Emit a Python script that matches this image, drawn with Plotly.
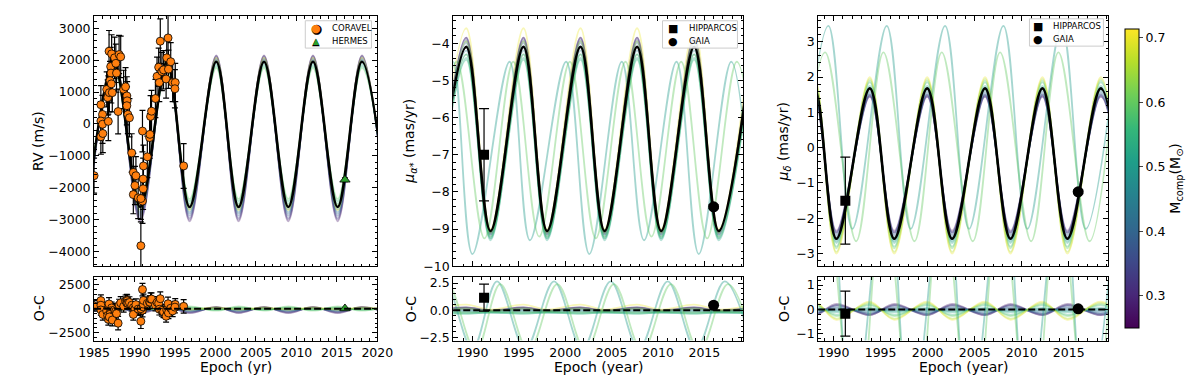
import plotly.graph_objects as go
from plotly.colors import sample_colorscale

# ---------------- observations ----------------
coravel_t = [1985.00, 1985.84, 1986.04, 1985.84, 1986.04, 1985.84, 1986.08, 1986.76, 1986.56, 1986.76,
             1986.68, 1986.85, 1987.17, 1987.05, 1987.09, 1986.97, 1987.13, 1986.89, 1987.25, 1987.53,
             1987.69, 1987.77, 1988.09, 1988.29, 1987.97, 1988.65, 1988.89, 1989.05, 1989.09, 1989.05,
             1989.17, 1989.37, 1989.65, 1989.85, 1990.05, 1989.85, 1990.17, 1990.45, 1990.98, 1990.78,
             1991.06, 1991.06, 1991.10, 1990.98, 1990.78, 1991.58, 1991.86, 1991.90, 1991.98, 1992.10,
             1992.58, 1992.78, 1992.98, 1993.18, 1993.06, 1993.38, 1993.58, 1993.90, 1993.98, 1994.14,
             1994.19, 1994.47, 1994.71, 1995.03, 1994.99, 1996.07]
coravel_rv = [-1620, 602, 296, 92, -10, -400, -300, 80, 1082, 908,
              827, 2276, 2194, 1796, 1592, 1357, 1255, 980, 980, 2071,
              1898, 1592, 2173, 2102, 388, 1082, 1163, 878, 724, 571,
              296, 194, -908, -1520, -1929, -2214, -1622, -2316, -2418, -2337,
              -2031, -1724, -1316, -224, -3816, -1031, -429, -327, 235, 398,
              796, 1490, 1776, 2592, 1296, 1643, 1694, 1408, 2071, 2694,
              1714, 1949, 1296, 1296, 1102, -1316]
coravel_err = [550, 600, 600, 600, 600, 550, 600, 600, 550, 600,
               550, 650, 600, 600, 600, 600, 600, 600, 600, 650,
               600, 600, 600, 650, 700, 600, 600, 600, 600, 600,
               600, 600, 600, 600, 600, 600, 600, 650, 700, 650,
               650, 650, 650, 650, 750, 650, 650, 650, 650, 650,
               600, 600, 600, 700, 600, 600, 600, 600, 650, 700,
               600, 600, 600, 600, 600, 700]
coravel_res = [300, 850, 100, 370, -200, -120, -590, -1100, -230, -740,
               -700, 500, 90, -210, -450, -570, -820, -850, -1170, -120,
               -240, -500, 390, 610, -1500, 250, 830, 900, 830, 590,
               580, 650, 370, 100, -10, -590, 430, -30, -150, 10,
               190, 490, 870, 2000, -1300, 570, 670, 690, 1000, 1010,
               380, 660, 570, 1050, -50, -170, -320, -780, -130, 520,
               -430, 60, -220, 450, 170, 250]

hermes_t = [2016.0]
hermes_rv = [-1750]
hermes_err = [60]
hermes_res = [30]

hip_t = [1991.25]
gaia_t = [2016.0]
hip_pmra, hip_pmra_err = [-7.0], [1.24]
hip_pmra_res, hip_pmra_res_err = [1.15], [1.24]
gaia_pmra, gaia_pmra_err, gaia_pmra_res = [-8.4], [0.05], [0.45]
hip_pmdec, hip_pmdec_err = [-1.5], [1.23]
hip_pmdec_res, hip_pmdec_res_err = [-0.17], [0.92]
gaia_pmdec, gaia_pmdec_err, gaia_pmdec_res = [-1.25], [0.05], [0.03]

# ---------------- best-fit orbit (turning points) ----------------
rv_best_t = [1984.2, 1987.45, 1990.7, 1994.0, 1996.8, 2000.1, 2002.85, 2006.0, 2009.0,
             2012.05, 2015.1, 2018.1, 2021.2]
rv_best_y = [-2600, 1950, -2600, 1950, -2600, 1950, -2600, 1950, -2600, 1950, -2600, 1950, -2600]

pmra_best_t = [1985.75, 1989.33, 1991.95, 1995.5, 1998.05, 2001.65, 2004.25, 2007.75, 2010.35,
               2013.9, 2016.55, 2020.15]
pmra_best_y = [-9.05, -4.1, -9.05, -4.1, -9.05, -4.1, -9.05, -4.1, -9.05, -4.1, -9.05, -4.1]

pmdec_best_t = [1984.6, 1987.95, 1990.3, 1993.85, 1996.45, 1999.95, 2002.6, 2006.1, 2008.8,
                2012.2, 2014.85, 2018.4, 2021.1]
pmdec_best_y = [-2.58, 1.68, -2.58, 1.68, -2.58, 1.68, -2.58, 1.68, -2.58, 1.68, -2.58, 1.68, -2.58]

# ---------------- posterior draws (companion mass, turning values) ----------------
sample_mass = [0.28, 0.31, 0.34, 0.37, 0.40, 0.43, 0.46, 0.49, 0.52, 0.56, 0.60, 0.65, 0.70]
rv_peak = [2150, 2130, 2100, 2060, 2030, 2000, 1960, 1920, 1860, 1800, 1750, 1950, 2080]
rv_trough = [-3050, -3000, -2950, -2880, -2820, -2760, -2680, -2600, -2500, -2420, -2350, -2550, -2700]
pmra_peak = [-3.85, -3.85, -3.9, -3.95, -4.0, -4.1, -4.2, -4.3, -4.4, -4.45, -4.3, -3.95, -3.6]
pmra_trough = [-9.05, -9.1, -9.1, -9.15, -9.1, -9.15, -9.2, -9.25, -9.3, -9.25, -9.2, -9.1, -9.0]
pmdec_peak = [1.45, 1.45, 1.5, 1.5, 1.55, 1.6, 1.65, 1.7, 1.75, 1.85, 1.9, 1.95, 2.0]
pmdec_trough = [-2.35, -2.4, -2.4, -2.45, -2.5, -2.55, -2.6, -2.65, -2.7, -2.8, -2.85, -2.95, -3.0]

# outlier draws (explicit turning points)
pmra_out_mass = [0.50, 0.60]
pmra_out_t = [
    [1985.0, 1987.9, 1990.0, 1994.0, 1996.2, 2000.1, 2002.6, 2006.1, 2008.5, 2012.0, 2014.4, 2017.9, 2020.3],
    [1985.3, 1988.3, 1991.3, 1994.4, 1997.2, 2000.5, 2003.3, 2006.5, 2009.3, 2012.5, 2015.3, 2018.5, 2021.3],
]
pmra_out_y = [
    [-9.2, -4.5, -9.67, -4.5, -9.3, -4.5, -9.67, -4.5, -9.3, -4.5, -9.67, -4.5, -9.3],
    [-9.25, -4.5, -9.25, -4.5, -9.2, -4.5, -9.25, -4.5, -9.2, -4.5, -9.25, -4.5, -9.25],
]
pmra_out_res_t = [
    [1983.9, 1986.95, 1990.0, 1992.65, 1995.7, 1998.8, 2001.85, 2004.9, 2007.95, 2011.05, 2014.1, 2017.2, 2020.25],
    [1984.2, 1987.3, 1990.35, 1993.0, 1996.05, 1999.15, 2002.2, 2005.25, 2008.3, 2011.4, 2014.45, 2017.55, 2020.6],
]
pmra_out_res_y = [
    [-3.6, 2.65, -3.6, 2.65, -3.6, 2.65, -3.6, 2.65, -3.6, 2.65, -3.6, 2.65, -3.6],
    [-3.8, 2.4, -3.8, 2.4, -3.8, 2.4, -3.8, 2.4, -3.8, 2.4, -3.8, 2.4, -3.8],
]

pmdec_out_mass = [0.50, 0.60]
pmdec_out_t = [
    [1986.0, 1989.45, 1992.0, 1995.65, 1998.2, 2001.85, 2004.4, 2008.05, 2010.6, 2014.25, 2016.8, 2020.45],
    [1985.9, 1989.1, 1992.4, 1995.3, 1998.6, 2001.5, 2004.8, 2007.7, 2011.0, 2013.9, 2017.2, 2020.1],
]
pmdec_out_y = [
    [-2.3, 3.45, -2.3, 3.45, -2.3, 3.45, -2.3, 3.45, -2.3, 3.45, -2.3, 3.45],
    [-2.65, 2.7, -2.65, 2.7, -2.65, 2.7, -2.65, 2.7, -2.65, 2.7, -2.65, 2.7],
]
pmdec_out_res_y = [
    [-5.0, 6.0, -5.0, 6.0, -5.0, 6.0, -5.0, 6.0, -5.0, 6.0, -5.0, 6.0],
    [-6.0, 5.0, -6.0, 5.0, -6.0, 5.0, -6.0, 5.0, -6.0, 5.0, -6.0, 5.0],
]

# legend entries: label, glyph, colour
legend_rv = [("CORAVEL", "●", "#ff7f0e"), ("HERMES", "▲", "#2ca02c")]
legend_pm = [("HIPPARCOS", "■", "black"), ("GAIA", "●", "black")]

CMIN, CMAX = 0.25, 0.714
FONT = "DejaVu Sans"
W, H = 1200, 381


def mass_color(m):
    return sample_colorscale("Viridis", [(m - CMIN) / (CMAX - CMIN)])[0]


def add_curve(fig, t, y, xa, ya, color, width=1.8, opacity=0.33):
    fig.add_trace(go.Scatter(
        x=t, y=y, mode="lines", xaxis=xa, yaxis=ya,
        line=dict(color=color, width=width, shape="spline", smoothing=1),
        opacity=opacity, showlegend=False, hoverinfo="skip"))


fig = go.Figure()

# posterior band + residual wiggles
panels = [
    (rv_best_t, rv_best_y, rv_peak, rv_trough, "x", "y", "x2", "y2"),
    (pmra_best_t, pmra_best_y, pmra_peak, pmra_trough, "x3", "y3", "x4", "y4"),
    (pmdec_best_t, pmdec_best_y, pmdec_peak, pmdec_trough, "x5", "y5", "x6", "y6"),
]
for t, best, pk, tr, xa, ya, xr, yr in panels:
    hi, lo = max(best), min(best)
    mid = (hi + lo) / 2
    for m, p, q in zip(sample_mass, pk, tr):
        y = [p if v > mid else q for v in best]
        res = [p - hi if v > mid else q - lo for v in best]
        add_curve(fig, t, y, xa, ya, mass_color(m))
        add_curve(fig, t, res, xr, yr, mass_color(m))

# outlier draws
for i, m in enumerate(pmra_out_mass):
    add_curve(fig, pmra_out_t[i], pmra_out_y[i], "x3", "y3", mass_color(m), opacity=0.4)
    add_curve(fig, pmra_out_res_t[i], pmra_out_res_y[i], "x4", "y4", mass_color(m), opacity=0.4)
for i, m in enumerate(pmdec_out_mass):
    add_curve(fig, pmdec_out_t[i], pmdec_out_y[i], "x5", "y5", mass_color(m), opacity=0.4)
    add_curve(fig, pmdec_out_t[i], pmdec_out_res_y[i], "x6", "y6", mass_color(m), opacity=0.4)

# best fit
add_curve(fig, rv_best_t, rv_best_y, "x", "y", "black", width=2.6, opacity=1)
add_curve(fig, pmra_best_t, pmra_best_y, "x3", "y3", "black", width=2.6, opacity=1)
add_curve(fig, pmdec_best_t, pmdec_best_y, "x5", "y5", "black", width=2.6, opacity=1)

# ---------------- data points ----------------
cor_marker = dict(color="#ff7f0e", size=8, line=dict(color="black", width=0.8))
her_marker = dict(color="#2ca02c", size=9, symbol="triangle-up", line=dict(color="black", width=0.8))
err_style = dict(color="black", thickness=1.2, width=3)


def add_points(x, y, xa, ya, marker, err=None, err_kw=err_style):
    fig.add_trace(go.Scatter(
        x=x, y=y, mode="markers", marker=marker, xaxis=xa, yaxis=ya, showlegend=False,
        hoverinfo="skip", error_y=dict(array=err, **err_kw) if err else None))


add_points(coravel_t, coravel_rv, "x", "y", cor_marker, coravel_err)
add_points(hermes_t, hermes_rv, "x", "y", her_marker, hermes_err)
add_points(coravel_t, coravel_res, "x2", "y2", cor_marker, coravel_err)
add_points(hermes_t, hermes_res, "x2", "y2", her_marker)

hip_marker = dict(color="black", size=10, symbol="square")
gaia_marker = dict(color="black", size=11, symbol="circle")
big_err = dict(color="black", thickness=1.2, width=5)

for xa, ya, xr, yr, hy, he, hr, hre, gy, ge, gr in [
    ("x3", "y3", "x4", "y4", hip_pmra, hip_pmra_err, hip_pmra_res, hip_pmra_res_err,
     gaia_pmra, gaia_pmra_err, gaia_pmra_res),
    ("x5", "y5", "x6", "y6", hip_pmdec, hip_pmdec_err, hip_pmdec_res, hip_pmdec_res_err,
     gaia_pmdec, gaia_pmdec_err, gaia_pmdec_res),
]:
    add_points(hip_t, hy, xa, ya, hip_marker, he, big_err)
    add_points(gaia_t, gy, xa, ya, gaia_marker, ge, big_err)
    add_points(hip_t, hr, xr, yr, hip_marker, hre, big_err)
    add_points(gaia_t, gr, xr, yr, gaia_marker)

# colour bar carrier
fig.add_trace(go.Scatter(
    x=hermes_t, y=hermes_rv, mode="markers", xaxis="x", yaxis="y", showlegend=False, hoverinfo="skip",
    marker=dict(size=1, opacity=0, color=[sample_mass[0]], colorscale="Viridis", cmin=CMIN, cmax=CMAX,
                showscale=True,
                colorbar=dict(x=1131 / W, xanchor="left", xpad=0, y=1 - 172.5 / H, yanchor="middle",
                              ypad=0, len=299, lenmode="pixels", thickness=14, thicknessmode="pixels",
                              outlinecolor="black", outlinewidth=1, ticks="outside", ticklen=4,
                              tickvals=[0.3, 0.4, 0.5, 0.6, 0.7], tickfont=dict(size=12.5),
                              title=dict(text="M<sub>comp</sub>(M<sub>⊙</sub>)", side="right",
                                         font=dict(size=14))))))

# ---------------- axes ----------------
top_dom = [1 - 262.5 / H, 1 - 6.5 / H]
bot_dom = [1 - 338.5 / H, 1 - 273.5 / H]
cols = [[72 / W, 363 / W], [441 / W, 739 / W], [816 / W, 1114 / W]]


def axis_style(**kw):
    base = dict(showline=True, linecolor="black", linewidth=1, mirror="allticks", ticks="inside",
                ticklen=5, tickwidth=1, tickcolor="black", showgrid=False, zeroline=False,
                tickfont=dict(size=12.5, color="black"))
    base.update(kw)
    return base


def minor(step):
    return dict(ticks="inside", ticklen=2.5, dtick=step, tickcolor="black")


xr_left = [1985, 2020]
xr_mid = [1987.93, 2019.2]
xr_right = [1988.37, 2019.2]

fig.update_layout(
    xaxis=axis_style(domain=cols[0], range=xr_left, anchor="y", dtick=5, showticklabels=False, minor=minor(1)),
    yaxis=axis_style(domain=top_dom, range=[-4460, 3370], anchor="x", dtick=1000, minor=minor(200)),
    xaxis2=axis_style(domain=cols[0], range=xr_left, anchor="y2", dtick=5, minor=minor(1)),
    yaxis2=axis_style(domain=bot_dom, range=[-3300, 3300], anchor="x2", dtick=2500, minor=minor(500)),
    xaxis3=axis_style(domain=cols[1], range=xr_mid, anchor="y3", dtick=5, tick0=1990,
                      showticklabels=False, minor=minor(1)),
    yaxis3=axis_style(domain=top_dom, range=[-10.0, -3.28], anchor="x3", dtick=1, minor=minor(0.2)),
    xaxis4=axis_style(domain=cols[1], range=xr_mid, anchor="y4", dtick=5, tick0=1990, minor=minor(1)),
    yaxis4=axis_style(domain=bot_dom, range=[-2.8, 3.05], anchor="x4", dtick=2.5, tickformat=".1f",
                      minor=minor(0.5)),
    xaxis5=axis_style(domain=cols[2], range=xr_right, anchor="y5", dtick=5, tick0=1990,
                      showticklabels=False, minor=minor(1)),
    yaxis5=axis_style(domain=top_dom, range=[-3.36, 3.72], anchor="x5", dtick=1, minor=minor(0.2)),
    xaxis6=axis_style(domain=cols[2], range=xr_right, anchor="y6", dtick=5, tick0=1990, minor=minor(1)),
    yaxis6=axis_style(domain=bot_dom, range=[-1.27, 1.33], anchor="x6", dtick=1, minor=minor(0.2)),
)

# zero lines of the O-C panels
for xr, yr in [("x2", "y2"), ("x4", "y4"), ("x6", "y6")]:
    fig.add_shape(type="line", xref=f"{xr} domain", x0=0, x1=1, yref=yr, y0=0, y1=0,
                  line=dict(color="black", width=2, dash="7px,3px"))


def paper(px, py):
    return px / W, 1 - py / H


# compact legends (box + glyph + label)
for entries, (bx0, bx1, by0, by1), gx, tx in [
    (legend_rv, (289, 357, 11, 39), 300, 315),
    (legend_pm, (656, 733, 11, 39), 667, 682),
    (legend_pm, (1033, 1109, 9, 37), 1042, 1056),
]:
    x0, y1 = paper(bx0, by0)
    x1, y0 = paper(bx1, by1)
    fig.add_shape(type="rect", xref="paper", yref="paper", x0=x0, x1=x1, y0=y0, y1=y1,
                  fillcolor="rgba(255,255,255,0.85)", line=dict(color="#cccccc", width=1))
    for k, (label, glyph, color) in enumerate(entries):
        cy = by0 + 7.5 + 13.5 * k
        gsize = 8 if glyph == "▲" else 11
        gx_p, gy_p = paper(gx, cy)
        if color != "black":
            fig.add_annotation(text=glyph, x=gx_p, y=gy_p, xref="paper", yref="paper",
                               showarrow=False, xanchor="center", yanchor="middle", borderpad=0,
                               font=dict(size=gsize + 2, color="black"))
        fig.add_annotation(text=glyph, x=gx_p, y=gy_p, xref="paper", yref="paper",
                           showarrow=False, xanchor="center", yanchor="middle", borderpad=0,
                           font=dict(size=gsize, color=color))
        tx_p, ty_p = paper(tx, cy)
        fig.add_annotation(text=label, x=tx_p, y=ty_p, xref="paper", yref="paper",
                           showarrow=False, xanchor="left", yanchor="middle", borderpad=0,
                           font=dict(size=8.5, color="black"))

# axis titles
titles = [
    ("RV (m/s)", 15, 134.5, -90), ("O-C", 15, 306, -90),
    ("<i>μ</i><sub><i>α</i>*</sub> (mas/yr)", 397, 134.5, -90), ("O-C", 397, 306, -90),
    ("<i>μ</i><sub><i>δ</i></sub> (mas/yr)", 781, 134.5, -90), ("O-C", 781, 306, -90),
    ("Epoch (yr)", 217.5, 366, 0), ("Epoch (year)", 590, 366, 0), ("Epoch (year)", 965, 366, 0),
]
for text, px, py, ang in titles:
    fig.add_annotation(text=text, xref="paper", yref="paper", x=px / W, y=1 - py / H,
                       xanchor="center", yanchor="middle", textangle=ang, showarrow=False,
                       font=dict(size=14, color="black"))

fig.update_layout(
    width=W, height=H,
    margin=dict(l=0, r=0, t=0, b=0),
    paper_bgcolor="white", plot_bgcolor="white",
    showlegend=False,
    font=dict(family=FONT, color="black"),
)

fig.write_html("out.html")
